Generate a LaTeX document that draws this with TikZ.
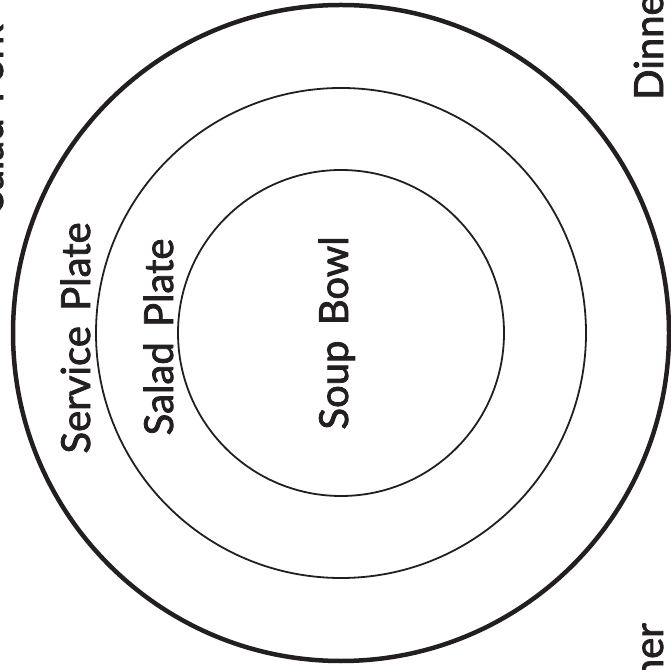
\documentclass[tikz,border=0pt]{standalone}
\usepackage{fontspec}
\setmainfont{Lato}[FakeBold=2, WordSpace=1.5]
\usepackage{tikz}
\usetikzlibrary{positioning, calc}
\definecolor{plateblack}{RGB}{35,31,32}

\begin{document}
\begin{tikzpicture}[x=1pt, y=1pt, font=\fontsize{40}{44}\selectfont,
  label/.style={text=plateblack, rotate=90, inner sep=0pt}]
  % Frame
  \useasboundingbox (0,0) rectangle (671,669);
  \clip (0,0) rectangle (671,669);
  % Plates
  \coordinate (centre) at (341,336);
  \draw[plateblack, line width=4.5pt] (centre) circle (328);
  \draw[plateblack, line width=1.8pt] (centre) circle (245);
  \draw[plateblack, line width=1.8pt] (centre) circle (163);
  % Plate labels
  \node[label, anchor=base] (service) at (90,331) {Service Plate};
  \node[label, anchor=base] (salad) at (173,332) {Salad Plate};
  \node[label, anchor=base] (soup) at (348,336) {Soup Bowl};
  % Cutlery labels, cut by the frame
  \node[label, anchor=base] (fork) at (3,551) {Salad Fork};
  \node[label, anchor=base west] (dinnertop) at (663,569) {Dinner};
  \node[label, anchor=base east] (dinnerbottom) at (663,46) {Dinner};
\end{tikzpicture}
\end{document}
